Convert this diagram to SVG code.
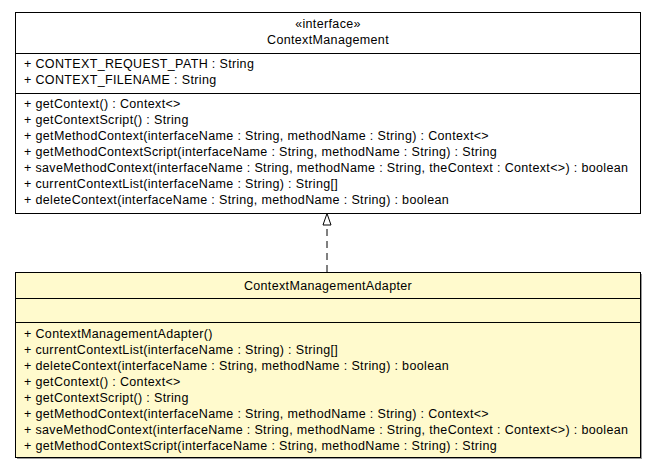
<svg xmlns="http://www.w3.org/2000/svg" width="656" height="469" viewBox="0 0 656 469">
<style>
text{font-family:"Liberation Sans",Arial,sans-serif;font-size:12.5px;letter-spacing:0.35px;fill:#000}
.c{text-anchor:middle}
.box{stroke:#000;stroke-width:1}
.sep{stroke:#000;stroke-width:1}
</style>
<rect x="0" y="0" width="656" height="469" fill="#fff"/>
<g id="ContextManagement">
<rect class="box" x="15.5" y="12.5" width="625" height="201" fill="#fff"/>
<line class="sep" x1="15.5" y1="53.5" x2="640.5" y2="53.5"/>
<line class="sep" x1="15.5" y1="93.5" x2="640.5" y2="93.5"/>
<text class="c" x="328" y="28">«interface»</text>
<text class="c" x="328" y="44">ContextManagement</text>
<text x="24" y="67.5">+ CONTEXT_REQUEST_PATH : String</text>
<text x="24" y="83.5">+ CONTEXT_FILENAME : String</text>
<text x="24" y="108">+ getContext() : Context&lt;&gt;</text>
<text x="24" y="124">+ getContextScript() : String</text>
<text x="24" y="140">+ getMethodContext(interfaceName : String, methodName : String) : Context&lt;&gt;</text>
<text x="24" y="156">+ getMethodContextScript(interfaceName : String, methodName : String) : String</text>
<text x="24" y="172">+ saveMethodContext(interfaceName : String, methodName : String, theContext : Context&lt;&gt;) : boolean</text>
<text x="24" y="188">+ currentContextList(interfaceName : String) : String[]</text>
<text x="24" y="204">+ deleteContext(interfaceName : String, methodName : String) : boolean</text>
</g>
<g id="ContextManagementAdapter">
<rect x="17" y="274" width="625" height="185" fill="#999"/>
<rect class="box" x="15.5" y="272.5" width="625" height="185" fill="#fffacd"/>
<line class="sep" x1="15.5" y1="298.5" x2="640.5" y2="298.5"/>
<line class="sep" x1="15.5" y1="322.5" x2="640.5" y2="322.5"/>
<text class="c" x="328" y="290">ContextManagementAdapter</text>
<text x="24" y="337.5">+ ContextManagementAdapter()</text>
<text x="24" y="353.5">+ currentContextList(interfaceName : String) : String[]</text>
<text x="24" y="369.5">+ deleteContext(interfaceName : String, methodName : String) : boolean</text>
<text x="24" y="385.5">+ getContext() : Context&lt;&gt;</text>
<text x="24" y="401.5">+ getContextScript() : String</text>
<text x="24" y="417.5">+ getMethodContext(interfaceName : String, methodName : String) : Context&lt;&gt;</text>
<text x="24" y="433.5">+ saveMethodContext(interfaceName : String, methodName : String, theContext : Context&lt;&gt;) : boolean</text>
<text x="24" y="449.5">+ getMethodContextScript(interfaceName : String, methodName : String) : String</text>
</g>
<g id="connectors">
<line x1="327" y1="272" x2="327" y2="225" stroke="#000" stroke-width="1" stroke-dasharray="7,5"/>
<polygon points="327,213.5 323,225 331,225" fill="#fff" stroke="#000" stroke-width="1"/>
</g>
</svg>
